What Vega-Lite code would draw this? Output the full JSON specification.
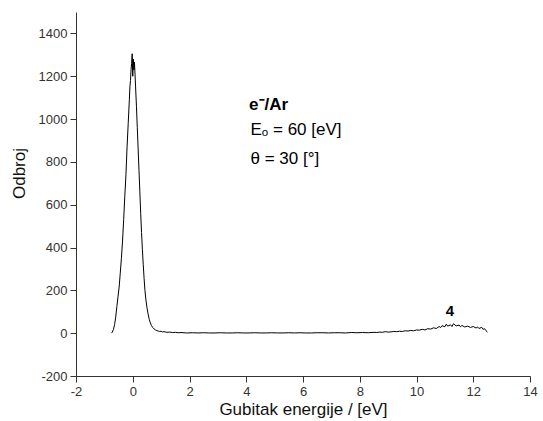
{
  "$schema": "https://vega.github.io/schema/vega-lite/v6.json",
  "width": 454,
  "height": 364,
  "autosize": {"type": "none"},
  "padding": {"left": 76, "top": 12, "right": 13, "bottom": 45},
  "background": "white",
  "config": {
    "view": {"stroke": null},
    "font": "Liberation Sans"
  },
  "datasets": {
    "spectrum": [
      {"e": -0.75, "n": 0}, {"e": -0.72, "n": 5}, {"e": -0.68, "n": 18}, {"e": -0.64, "n": 40},
      {"e": -0.6, "n": 75}, {"e": -0.56, "n": 125}, {"e": -0.52, "n": 170}, {"e": -0.48, "n": 215},
      {"e": -0.44, "n": 280}, {"e": -0.4, "n": 350}, {"e": -0.36, "n": 430}, {"e": -0.32, "n": 530},
      {"e": -0.28, "n": 640}, {"e": -0.24, "n": 740}, {"e": -0.2, "n": 870}, {"e": -0.16, "n": 980},
      {"e": -0.12, "n": 1090}, {"e": -0.1, "n": 1150}, {"e": -0.08, "n": 1180}, {"e": -0.06, "n": 1230},
      {"e": -0.04, "n": 1260}, {"e": -0.02, "n": 1305}, {"e": 0.0, "n": 1200}, {"e": 0.02, "n": 1280},
      {"e": 0.04, "n": 1230}, {"e": 0.06, "n": 1265}, {"e": 0.08, "n": 1210}, {"e": 0.1, "n": 1150},
      {"e": 0.13, "n": 1060}, {"e": 0.16, "n": 960}, {"e": 0.19, "n": 860}, {"e": 0.22, "n": 760},
      {"e": 0.25, "n": 660}, {"e": 0.28, "n": 560}, {"e": 0.31, "n": 470}, {"e": 0.34, "n": 390},
      {"e": 0.37, "n": 320}, {"e": 0.4, "n": 255}, {"e": 0.43, "n": 200}, {"e": 0.46, "n": 160},
      {"e": 0.5, "n": 120}, {"e": 0.54, "n": 90}, {"e": 0.58, "n": 65}, {"e": 0.62, "n": 48},
      {"e": 0.66, "n": 36}, {"e": 0.7, "n": 27}, {"e": 0.75, "n": 20}, {"e": 0.8, "n": 15},
      {"e": 0.85, "n": 12}, {"e": 0.9, "n": 10}, {"e": 0.95, "n": 8}, {"e": 1.0, "n": 9},
      {"e": 1.05, "n": 6}, {"e": 1.1, "n": 7}, {"e": 1.2, "n": 4}, {"e": 1.3, "n": 5},
      {"e": 1.4, "n": 3}, {"e": 1.5, "n": 4}, {"e": 1.6, "n": 2}, {"e": 1.7, "n": 3},
      {"e": 1.9, "n": 1}, {"e": 2.1, "n": 2}, {"e": 2.3, "n": 1}, {"e": 2.5, "n": 2},
      {"e": 2.7, "n": 1}, {"e": 2.9, "n": 1}, {"e": 3.1, "n": 2}, {"e": 3.3, "n": 1},
      {"e": 3.5, "n": 1}, {"e": 3.7, "n": 2}, {"e": 3.9, "n": 1}, {"e": 4.1, "n": 1},
      {"e": 4.3, "n": 2}, {"e": 4.5, "n": 1}, {"e": 4.7, "n": 1}, {"e": 4.9, "n": 2},
      {"e": 5.1, "n": 1}, {"e": 5.3, "n": 1}, {"e": 5.5, "n": 2}, {"e": 5.7, "n": 1},
      {"e": 5.9, "n": 2}, {"e": 6.1, "n": 1}, {"e": 6.3, "n": 1}, {"e": 6.5, "n": 2},
      {"e": 6.7, "n": 2}, {"e": 6.9, "n": 1}, {"e": 7.1, "n": 2}, {"e": 7.3, "n": 2},
      {"e": 7.5, "n": 1}, {"e": 7.7, "n": 3}, {"e": 7.9, "n": 2}, {"e": 8.1, "n": 3},
      {"e": 8.3, "n": 2}, {"e": 8.5, "n": 4}, {"e": 8.6, "n": 3}, {"e": 8.7, "n": 5},
      {"e": 8.8, "n": 4}, {"e": 8.9, "n": 7}, {"e": 9.0, "n": 5}, {"e": 9.1, "n": 6},
      {"e": 9.2, "n": 8}, {"e": 9.3, "n": 7}, {"e": 9.4, "n": 9}, {"e": 9.5, "n": 8},
      {"e": 9.6, "n": 11}, {"e": 9.7, "n": 10}, {"e": 9.8, "n": 13}, {"e": 9.9, "n": 11},
      {"e": 10.0, "n": 15}, {"e": 10.1, "n": 14}, {"e": 10.2, "n": 18}, {"e": 10.3, "n": 15},
      {"e": 10.4, "n": 21}, {"e": 10.5, "n": 19}, {"e": 10.6, "n": 25}, {"e": 10.7, "n": 22},
      {"e": 10.8, "n": 31}, {"e": 10.85, "n": 26}, {"e": 10.9, "n": 35}, {"e": 11.0, "n": 30},
      {"e": 11.05, "n": 42}, {"e": 11.1, "n": 33}, {"e": 11.2, "n": 39}, {"e": 11.25, "n": 31},
      {"e": 11.3, "n": 44}, {"e": 11.4, "n": 34}, {"e": 11.5, "n": 38}, {"e": 11.55, "n": 30},
      {"e": 11.6, "n": 36}, {"e": 11.7, "n": 29}, {"e": 11.8, "n": 33}, {"e": 11.9, "n": 27},
      {"e": 12.0, "n": 31}, {"e": 12.1, "n": 24}, {"e": 12.15, "n": 29}, {"e": 12.2, "n": 22},
      {"e": 12.3, "n": 27}, {"e": 12.35, "n": 18}, {"e": 12.4, "n": 21},
      {"e": 12.45, "n": 11}, {"e": 12.5, "n": 5}
    ],
    "boldnotes": [
      {"e": 4.1, "n": 1067, "t": "e⁻/Ar"}
    ],
    "notes": [
      {"e": 4.15, "n": 948, "t": "Eₒ = 60 [eV]"},
      {"e": 4.15, "n": 815, "t": "θ = 30 [°]"}
    ],
    "peaks": [
      {"e": 11.18, "n": 103, "t": "4"}
    ]
  },
  "layer": [
    {
      "data": {"name": "spectrum"},
      "mark": {"type": "line", "color": "black", "strokeWidth": 1, "clip": true},
      "encoding": {
        "x": {
          "field": "e", "type": "quantitative",
          "scale": {"domain": [-2, 14], "nice": false, "zero": false},
          "axis": {
            "title": "Gubitak energije / [eV]",
            "values": [-2, -1, 0, 1, 2, 3, 4, 5, 6, 7, 8, 9, 10, 11, 12, 13, 14],
            "labelExpr": "datum.value % 2 === 0 ? '' + datum.value : ''",
            "labelOverlap": false,
            "labelFlush": false,
            "labelFontSize": 13,
            "labelColor": "#333333",
            "labelPadding": 3,
            "tickSize": 6,
            "tickWidth": 1,
            "tickDash": {"condition": {"test": "datum.value % 2 !== 0", "value": [3, 10]}, "value": [10, 0]},
            "tickColor": "#333333",
            "domainColor": "#333333",
            "grid": false,
            "titleFontSize": 17,
            "titleFontWeight": "normal",
            "titleColor": "#111111",
            "titlePadding": 3
          }
        },
        "y": {
          "field": "n", "type": "quantitative",
          "scale": {"domain": [-200, 1500], "nice": false, "zero": false},
          "axis": {
            "title": "Odbroj",
            "values": [-200, -100, 0, 100, 200, 300, 400, 500, 600, 700, 800, 900, 1000, 1100, 1200, 1300, 1400],
            "labelExpr": "datum.value % 200 === 0 ? '' + datum.value : ''",
            "labelOverlap": false,
            "labelFlush": false,
            "labelFontSize": 13,
            "labelColor": "#333333",
            "labelPadding": 3,
            "tickSize": 6,
            "tickWidth": 1,
            "tickDash": {"condition": {"test": "datum.value % 200 !== 0", "value": [3, 10]}, "value": [10, 0]},
            "tickColor": "#333333",
            "domainColor": "#333333",
            "grid": false,
            "titleFontSize": 17,
            "titleFontWeight": "normal",
            "titleColor": "#111111",
            "titleX": -48,
            "titleY": 161
          }
        }
      }
    },
    {
      "data": {"name": "notes"},
      "mark": {"type": "text", "align": "left", "baseline": "middle", "fontSize": 17, "color": "black"},
      "encoding": {
        "x": {"field": "e", "type": "quantitative"},
        "y": {"field": "n", "type": "quantitative"},
        "text": {"field": "t"}
      }
    },
    {
      "data": {"name": "boldnotes"},
      "mark": {"type": "text", "align": "left", "baseline": "middle", "fontSize": 17, "fontWeight": "bold", "color": "black"},
      "encoding": {
        "x": {"field": "e", "type": "quantitative"},
        "y": {"field": "n", "type": "quantitative"},
        "text": {"field": "t"}
      }
    },
    {
      "data": {"name": "peaks"},
      "mark": {"type": "text", "align": "center", "baseline": "middle", "fontSize": 15, "fontWeight": "bold", "color": "black"},
      "encoding": {
        "x": {"field": "e", "type": "quantitative"},
        "y": {"field": "n", "type": "quantitative"},
        "text": {"field": "t"}
      }
    }
  ]
}
